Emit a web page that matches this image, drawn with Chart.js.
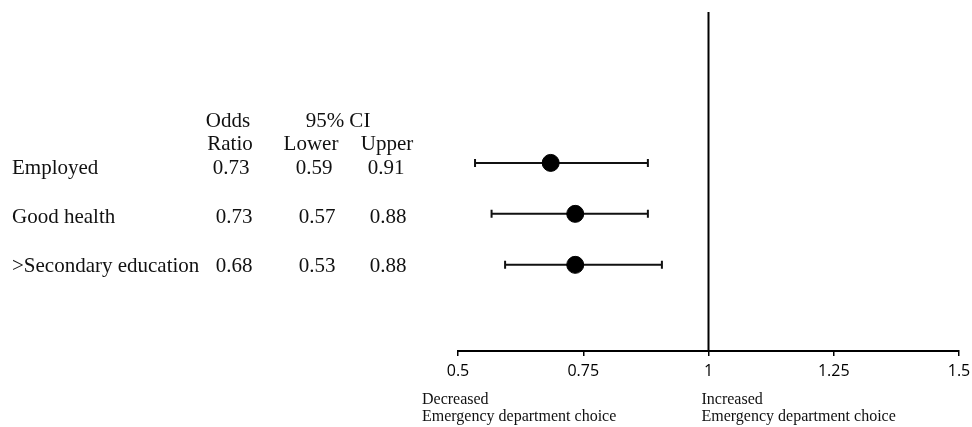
<!DOCTYPE html>
<html lang="en">
<head>
<meta charset="UTF-8">
<title>Odds ratios</title>
<script src="https://cdn.jsdelivr.net/npm/chart.js"></script>
<style>
  html, body { margin: 0; padding: 0; background: #fff; }
</style>
</head>
<body>
<canvas id="chart" width="972" height="427"></canvas>
<script>
// table on the left
const categories = ['Employed', 'Good health', '>Secondary education'];
const oddsRatio = ['0.73', '0.73', '0.68'];
const ciLower = ['0.59', '0.57', '0.53'];
const ciUpper = ['0.91', '0.88', '0.88'];

// markers as drawn in the plot, top to bottom
const plotOdds = [0.685, 0.734, 0.734];
const plotLower = [0.534, 0.567, 0.594];
const plotUpper = [0.879, 0.879, 0.907];

const xTicks = [0.5, 0.75, 1, 1.25, 1.5];
const refValue = 1;

const serif = "'Liberation Serif', 'DejaVu Serif', serif";

// whiskers + the vertical line at OR = 1
const errorBars = {
    id: 'errorBars',
    beforeDatasetsDraw(chart) {
        const ctx = chart.ctx, xs = chart.scales.x, ys = chart.scales.y;
        const area = chart.chartArea;
        ctx.save();
        ctx.strokeStyle = '#000';
        ctx.lineWidth = 2;
        ctx.beginPath();
        const xr = xs.getPixelForValue(refValue);
        ctx.moveTo(xr, area.top);
        ctx.lineTo(xr, area.bottom);
        ctx.stroke();

        ctx.strokeStyle = '#111';
        ctx.lineWidth = 2;
        plotOdds.forEach((_, i) => {
            const y = ys.getPixelForValue(i);
            const x1 = xs.getPixelForValue(plotLower[i]);
            const x2 = xs.getPixelForValue(plotUpper[i]);
            ctx.beginPath();
            ctx.moveTo(x1, y); ctx.lineTo(x2, y);
            ctx.moveTo(x1, y - 4); ctx.lineTo(x1, y + 4);
            ctx.moveTo(x2, y - 4); ctx.lineTo(x2, y + 4);
            ctx.stroke();
        });
        ctx.restore();
    }
};

// table text and the captions under the axis
const labels = {
    id: 'labels',
    afterDraw(chart) {
        const ctx = chart.ctx, xs = chart.scales.x;
        ctx.save();
        ctx.fillStyle = '#111';
        ctx.textBaseline = 'middle';
        ctx.font = '21px ' + serif;

        ctx.textAlign = 'center';
        ctx.fillText('Odds', 228, 121);
        ctx.fillText('95% CI', 338, 121);
        ctx.fillText('Ratio', 230, 144);
        ctx.fillText('Lower', 311, 144);
        ctx.fillText('Upper', 387, 144);

        categories.forEach((c, i) => {
            const y = 168 + i * 49;
            ctx.textAlign = 'left';
            ctx.fillText(c, 12, y);
            ctx.textAlign = 'center';
            ctx.fillText(oddsRatio[i], i === 0 ? 231 : 234, y);
            ctx.fillText(ciLower[i], i === 0 ? 314 : 317, y);
            ctx.fillText(ciUpper[i], i === 0 ? 386 : 388, y);
        });

        ctx.font = '16px ' + serif;
        ctx.textAlign = 'left';
        const xl = xs.getPixelForValue(0.5) - 36;
        const xm = xs.getPixelForValue(refValue) - 7;
        ctx.fillText('Decreased', xl, 400);
        ctx.fillText('Emergency department choice', xl, 417);
        ctx.fillText('Increased', xm, 400);
        ctx.fillText('Emergency department choice', xm, 417);
        ctx.restore();
    }
};

new Chart(document.getElementById('chart').getContext('2d'), {
    type: 'scatter',
    data: {
        datasets: [{
            data: plotOdds.map((v, i) => ({ x: v, y: i })),
            backgroundColor: '#000',
            borderColor: '#000',
            pointRadius: 8.5,
            pointHoverRadius: 8.5
        }]
    },
    options: {
        responsive: false,
        animation: false,
        events: [],
        layout: { padding: { left: 458, right: 13, top: 12, bottom: 0 } },
        plugins: { legend: { display: false }, tooltip: { enabled: false } },
        scales: {
            x: {
                type: 'linear',
                min: 0.5,
                max: 1.5,
                afterBuildTicks: s => { s.ticks = xTicks.map(v => ({ value: v })); },
                afterFit: s => { s.height = 76; s.paddingLeft = 0; s.paddingRight = 0; },
                border: { color: '#000', width: 2 },
                grid: { drawOnChartArea: false, drawTicks: true, tickLength: 5, color: '#000', lineWidth: 1.5 },
                ticks: {
                    color: '#000',
                    padding: 6,
                    font: { family: "'Open Sans', sans-serif", size: 16 },
                    callback: v => String(v),
                    maxRotation: 0
                }
            },
            y: {
                type: 'linear',
                display: false,
                reverse: true,
                min: -2.96,
                max: 3.69
            }
        }
    },
    plugins: [errorBars, labels]
});
</script>
</body>
</html>
